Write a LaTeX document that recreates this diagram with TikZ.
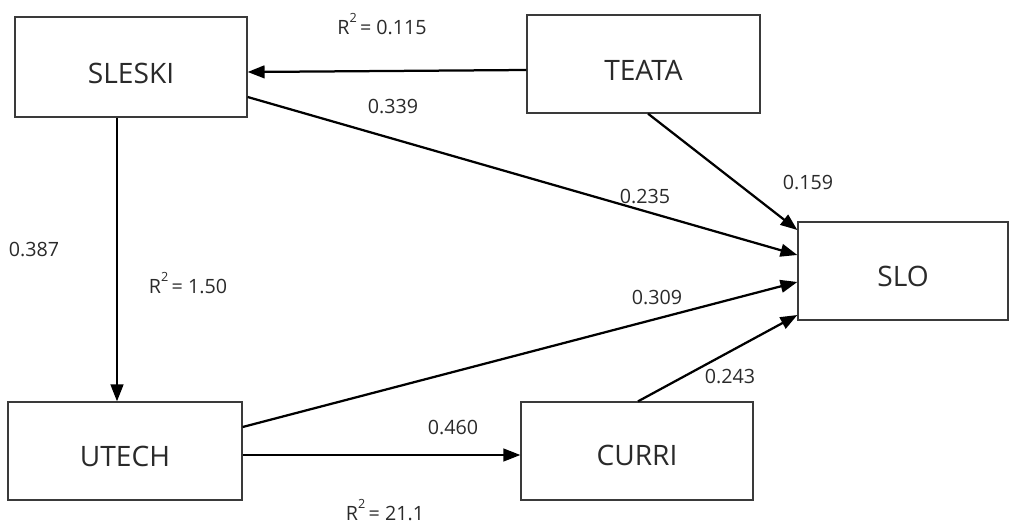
\documentclass[tikz,border=0pt]{standalone}
\usepackage{fontspec}
\setmainfont{Open Sans}
\usepackage{xcolor}
\usetikzlibrary{arrows.meta,calc}
\definecolor{pathBox}{HTML}{3A3A3A}
\definecolor{pathText}{HTML}{2A2A2A}
\newcommand{\rsq}{R\raisebox{0.62em}{\fontsize{9}{9}\selectfont 2}\,}

\begin{document}
\begin{tikzpicture}[x=0.025cm, y=-0.025cm]
\tikzset{
  b/.style={rectangle, draw=pathBox, line width=0.9pt, fill=white, text=pathText,
            minimum width=5.8cm, minimum height=2.45cm, inner sep=0pt,
            font=\fontsize{20}{24}\selectfont},
  t/.style={font=\fontsize{20}{24}\selectfont, text=pathText, inner sep=0pt},
  l/.style={-{Triangle[length=12pt,width=9pt]}, draw=black, line width=1.6pt},
  v/.style={font=\fontsize{14}{17}\selectfont, text=pathText, inner sep=1pt}
}
\useasboundingbox (0,0) rectangle (1020,525);

% Boxes
\node[b, minimum height=2.5cm] (sleski) at (131,67) {};
\node[b, minimum width=5.825cm] (teata) at (643.5,64) {};
\node[b, minimum width=5.25cm] (slo) at (903,271) {};
\node[b, minimum width=5.85cm] (utech) at (125,451) {};
\node[b] (curri) at (637,451) {};

% Box texts (set a little below centre)
\node[t] (tsleski) at ($(sleski)+(0,6)$) {SLESKI};
\node[t] (tteata) at ($(teata)+(0,6)$) {TEATA};
\node[t] (tslo) at ($(slo)+(0,5)$) {SLO};
\node[t] (tutech) at ($(utech)+(0,5)$) {UTECH};
\node[t] (tcurri) at ($(curri)+(0,4)$) {CURRI};

% Paths
\draw[l] ($(teata.west)+(0,6)$) -- ($(sleski.east)+(0,5)$);
\draw[l] ($(sleski.east)+(0,30)$) -- ($(slo.west)+(0,-16)$);
\draw[l] ($(teata.south)+(4.5,0)$) -- ($(slo.west)+(0,-41)$);
\draw[l] ($(sleski.south)+(-14,0)$) coordinate (sd) -- (sd |- utech.north);
\draw[l] ($(utech.east)+(0,-24)$) -- ($(slo.west)+(0,11)$);
\draw[l] ($(utech.east)+(0,4)$) -- ($(curri.west)+(0,4)$);
\draw[l] ($(curri.north)+(1,0)$) -- ($(slo.west)+(0,44)$);

% Coefficients
\node[v] (r1) at (382,24) {\rsq{}= 0.115};
\node[v] (c339) at (393,107) {0.339};
\node[v] (c235) at (645,197) {0.235};
\node[v] (c159) at (808,183) {0.159};
\node[v] (c387) at (34,250) {0.387};
\node[v] (r2) at (188,283) {\rsq{}= 1.50};
\node[v] (c309) at (657,298) {0.309};
\node[v] (c243) at (730,377) {0.243};
\node[v] (c460) at (453,427) {0.460};
\node[v] (r3) at (385,510) {\rsq{}= 21.1};
\end{tikzpicture}
\end{document}
